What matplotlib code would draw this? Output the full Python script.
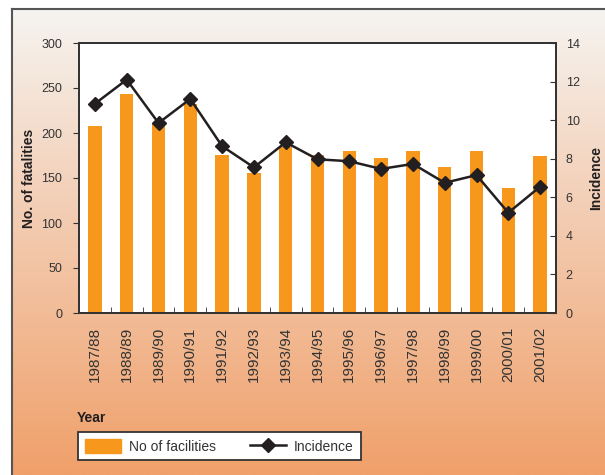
import matplotlib.pyplot as plt
import numpy as np
from matplotlib.patches import Patch
from matplotlib.lines import Line2D

years = ["1987/88", "1988/89", "1989/90", "1990/91", "1991/92", "1992/93",
         "1993/94", "1994/95", "1995/96", "1996/97", "1997/98", "1998/99",
         "1999/00", "2000/01", "2001/02"]
fatalities = [208, 243, 210, 232, 176, 156, 184, 176, 180, 172, 180, 162,
              180, 139, 175]
incidence = [10.85, 12.1, 9.85, 11.1, 8.65, 7.55, 8.85, 7.97, 7.87, 7.47,
             7.73, 6.75, 7.15, 5.2, 6.55]

W, H = 605, 475
font = ["Liberation Sans", "DejaVu Sans"]
dark = "#231f20"
grey = "#333333"
orange = "#f7981d"

fig = plt.figure(figsize=(W / 100, H / 100), dpi=100)

# gradient background with frame on left/top
bg = fig.add_axes([12 / W, 0, 1 - 12 / W, (H - 9) / H], zorder=-10)
rows = np.linspace(0, 1, 300)
stops = [0, 0.4, 1]
r = np.interp(rows, stops, [246, 243, 240]) / 255
g = np.interp(rows, stops, [244, 208, 160]) / 255
b = np.interp(rows, stops, [241, 184, 106]) / 255
grad = np.stack([r, g, b], axis=1)[:, None, :]
bg.imshow(grad, aspect="auto", extent=[0, 1, 0, 1])
bg.set_xticks([])
bg.set_yticks([])
for s in ["right", "bottom"]:
    bg.spines[s].set_visible(False)
for s in ["left", "top"]:
    bg.spines[s].set_color("#555555")
    bg.spines[s].set_linewidth(1.5)

ax = fig.add_axes([79 / W, (H - 313) / H, (556 - 79) / W, (313 - 43) / H])
ax.set_facecolor("white")
x = np.arange(len(years))
ax.bar(x, fatalities, width=0.42, color=orange, zorder=2)
ax.set_xlim(-0.5, len(years) - 0.5)
ax.set_ylim(0, 300)
ax.set_yticks(range(0, 301, 50))
ax.set_xticks(x)
ax.set_xticklabels(years, rotation=90, family=font, fontsize=11, color=grey)
ax.set_xticks(x[:-1] + 0.5, minor=True)
ax.tick_params(axis="x", which="major", length=0, pad=10)
ax.tick_params(axis="x", which="minor", direction="in", length=4, color=grey)
ax.tick_params(axis="y", direction="out", length=4, pad=8, color=grey,
               labelcolor=grey)
for lab in ax.get_yticklabels():
    lab.set_family(font)
    lab.set_fontsize(9)
ax.set_ylabel("No. of fatalities", family=font, fontweight="bold", fontsize=10,
              color=dark, labelpad=4)

ax2 = ax.twinx()
ax2.plot(x, incidence, color=dark, lw=1.8, marker="D", markersize=7.5, zorder=3)
ax2.set_ylim(0, 14)
ax2.set_yticks(range(0, 15, 2))
ax2.tick_params(axis="y", direction="in", length=4, pad=7, color=grey,
                labelcolor=grey)
for lab in ax2.get_yticklabels():
    lab.set_family(font)
    lab.set_fontsize(9)
ax2.set_ylabel("Incidence", family=font, fontweight="bold", fontsize=10,
               color=dark, labelpad=7)

for a in (ax, ax2):
    for s in a.spines.values():
        s.set_color(grey)
        s.set_linewidth(1.3)

fig.text(77 / W, 1 - 418 / H, "Year", family=font, fontweight="bold",
         fontsize=10, color=dark, va="center", ha="left")

handles = [Patch(color=orange, label="No of facilities"),
           Line2D([], [], color=dark, lw=1.8, marker="D", markersize=7.5,
                  label="Incidence")]
leg = fig.legend(handles=handles, loc="upper left",
                 bbox_to_anchor=(78 / W, 1 - 432 / H), ncol=2,
                 fancybox=False, framealpha=1, edgecolor=grey,
                 borderaxespad=0, borderpad=0.5, handlelength=2.6,
                 handleheight=1.15, handletextpad=0.6, columnspacing=2.4,
                 prop={"family": font, "size": 10})
leg.get_frame().set_linewidth(1.3)
for t in leg.get_texts():
    t.set_color(grey)

fig.savefig("out.png", dpi=100)
